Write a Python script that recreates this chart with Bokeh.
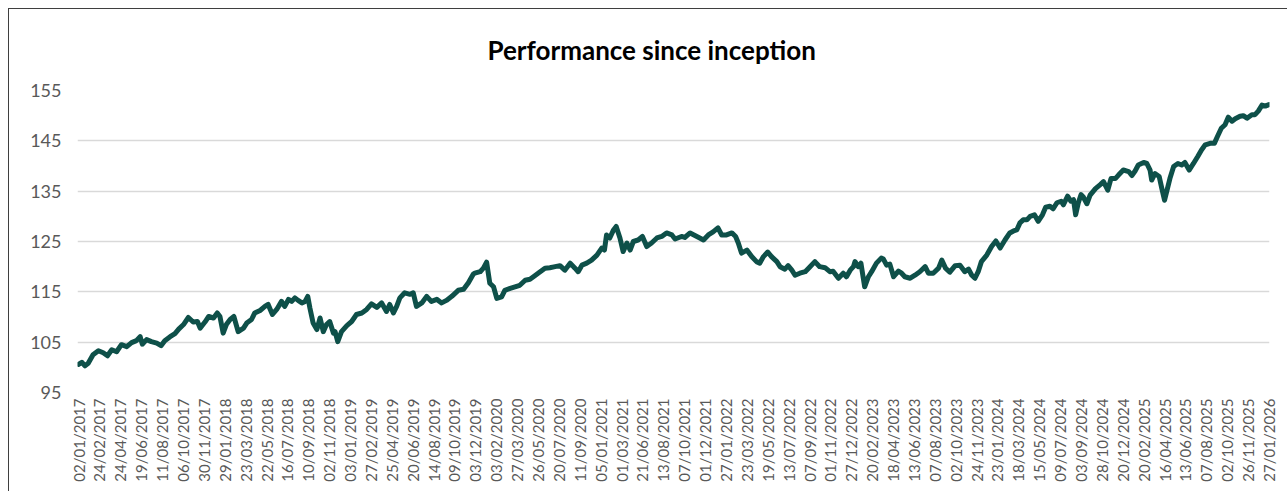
from math import pi
from bokeh.plotting import figure
from bokeh.models import FixedTicker, Range1d, ColumnDataSource
from bokeh.embed import file_html
from bokeh.resources import INLINE

# ---------------- data ----------------
title_text = "Performance since inception"
tick_dates = [
    "02/01/2017", "24/02/2017", "24/04/2017", "19/06/2017", "11/08/2017", "06/10/2017",
    "30/11/2017", "29/01/2018", "23/03/2018", "22/05/2018", "16/07/2018", "10/09/2018",
    "02/11/2018", "03/01/2019", "27/02/2019", "25/04/2019", "20/06/2019", "14/08/2019",
    "09/10/2019", "03/12/2019", "03/02/2020", "27/03/2020", "26/05/2020", "20/07/2020",
    "11/09/2020", "05/01/2021", "01/03/2021", "21/06/2021", "13/08/2021", "07/10/2021",
    "01/12/2021", "27/01/2022", "23/03/2022", "19/05/2022", "13/07/2022", "07/09/2022",
    "01/11/2022", "27/12/2022", "20/02/2023", "18/04/2023", "13/06/2023", "07/08/2023",
    "02/10/2023", "24/11/2023", "23/01/2024", "18/03/2024", "15/05/2024", "09/07/2024",
    "03/09/2024", "28/10/2024", "20/12/2024", "20/02/2025", "16/04/2025", "13/06/2025",
    "07/08/2025", "02/10/2025", "26/11/2025", "27/01/2026",
]
obs_per_tick = 39  # observations between two date labels

# observation number (trading day index) and performance value
obs = [
    0, 6, 12, 18, 27, 37, 46, 54, 62, 71, 80, 90, 99, 108, 115, 119, 127, 136, 146, 154,
    161, 171, 180, 187, 196, 205, 214, 222, 227, 236, 243, 252, 259, 264, 270, 276, 283, 290, 298, 308,
    314, 323, 329, 339, 348, 354, 362, 370,
    379, 385, 392, 398, 404, 410, 417, 423, 428, 432, 438, 445, 451, 457, 463, 469, 476, 479, 484, 491,
    501, 510, 519, 529, 538, 547, 557, 566, 575, 581, 588, 594, 600, 609, 619, 625, 631, 641, 650, 659,
    669, 678, 687, 697, 709, 719, 728, 737,
    740, 750, 756, 762, 768, 775, 781, 790, 796, 806, 815, 824, 834, 843, 852, 862, 871, 880, 890, 899,
    908, 918, 927, 933, 940, 949, 958, 968, 977, 982, 986, 992, 999, 1004, 1011, 1017, 1024, 1030, 1036, 1045,
    1053, 1061, 1070, 1080, 1089, 1098, 1108, 1114,
    1126, 1132, 1142, 1151, 1160, 1167, 1176, 1185, 1194, 1201, 1210, 1220, 1227, 1232, 1238, 1248, 1257, 1266,
    1272, 1279, 1287, 1294, 1304, 1310, 1319, 1325, 1332, 1338, 1347, 1357, 1366, 1375, 1384, 1394, 1403, 1409,
    1419, 1428, 1434, 1441, 1447, 1450, 1456, 1461, 1468, 1475, 1481, 1490, 1499,
    1503, 1509, 1515, 1522, 1531, 1537, 1543, 1553, 1562, 1571, 1581, 1587, 1596, 1606, 1612, 1619, 1627, 1637,
    1646, 1655, 1662, 1668, 1674, 1680, 1686, 1696, 1705, 1713, 1721, 1730, 1739, 1746, 1752, 1758, 1764, 1771,
    1777, 1785, 1792, 1800, 1806, 1814, 1820, 1827, 1835, 1839, 1847, 1853, 1858, 1862, 1867, 1872,
    1876, 1883, 1889, 1899, 1908, 1914, 1922, 1928, 1936, 1942, 1951, 1961, 1967, 1973, 1979, 1989, 1995, 2001,
    2004, 2010, 2018, 2023, 2028, 2032, 2038, 2045, 2053, 2060, 2066, 2074, 2082, 2090, 2097, 2104, 2113, 2121,
    2127, 2134, 2141, 2147, 2154, 2160, 2169, 2175, 2182, 2191, 2197, 2203, 2210, 2216, 2223,
]
perf = [
    100.6, 101.0, 100.3, 100.8, 102.5, 103.3, 102.9, 102.3, 103.5, 103.1, 104.5, 104.1, 104.9, 105.3, 106.1, 104.6, 105.5, 105.1, 104.8, 104.3,
    105.3, 106.1, 106.7, 107.6, 108.5, 109.9, 109.0, 109.1, 107.8, 109.0, 110.1, 109.8, 110.8, 110.1, 106.8, 108.5, 109.5, 110.1, 107.1, 107.8,
    108.8, 109.5, 110.8, 111.3, 112.1, 112.5, 110.5, 111.5,
    113.1, 112.1, 113.5, 113.1, 113.8, 113.3, 112.8, 113.1, 114.1, 111.8, 108.8, 107.5, 109.8, 107.1, 108.5, 109.1, 106.8, 107.1, 105.1, 107.1,
    108.3, 109.1, 110.5, 110.8, 111.5, 112.6, 111.9, 112.8, 111.1, 112.5, 110.8, 112.1, 113.8, 114.8, 114.5, 114.8, 112.1, 112.8, 114.1, 113.1,
    113.5, 112.8, 113.3, 114.1, 115.3, 115.5, 116.8, 118.5,
    118.7, 119.0, 119.7, 120.9, 116.7, 116.0, 113.7, 114.0, 115.3, 115.7, 116.0, 116.3, 117.3, 117.5, 118.2, 119.0, 119.7, 119.8, 120.0, 120.2,
    119.3, 120.7, 119.7, 119.0, 120.3, 120.7, 121.3, 122.3, 123.7, 123.3, 126.3, 125.7, 127.3, 128.0, 125.7, 123.0, 124.7, 123.3, 125.0, 125.3,
    126.0, 124.0, 124.7, 125.7, 126.0, 126.7, 126.3, 125.5,
    126.0, 125.8, 126.7, 126.2, 125.7, 125.3, 126.3, 126.9, 127.7, 126.3, 126.3, 126.7, 126.0, 124.7, 122.7, 123.3, 122.0, 121.0,
    120.7, 122.0, 122.9, 122.0, 121.0, 120.0, 119.5, 120.2, 119.3, 118.3, 118.7, 119.0, 120.0, 121.0, 120.0, 119.8, 119.0, 119.1,
    117.7, 118.7, 118.0, 119.3, 120.0, 121.0, 120.0, 120.7, 116.0, 118.0, 119.0, 120.7, 121.7,
    121.5, 120.3, 120.5, 118.0, 119.1, 118.7, 118.0, 117.7, 118.3, 119.0, 120.0, 118.7, 118.7, 119.7, 121.3, 119.7, 118.9, 120.2,
    120.3, 119.0, 119.5, 118.3, 117.7, 119.0, 121.0, 122.3, 124.0, 125.1, 123.7, 125.3, 126.7, 127.1, 127.3, 128.7, 129.3, 129.3,
    130.0, 130.3, 129.0, 130.3, 131.8, 132.0, 131.5, 132.7, 133.0, 132.3, 134.0, 133.0, 133.3, 130.3, 132.7, 134.3,
    133.9, 132.5, 134.2, 135.5, 136.3, 136.9, 135.2, 137.5, 137.5, 138.2, 139.2, 138.9, 138.1, 139.0, 140.2, 140.7, 140.5, 139.2,
    137.2, 138.5, 137.9, 135.5, 133.2, 134.9, 137.5, 139.9, 140.5, 140.2, 140.7, 139.2, 140.5, 141.9, 143.2, 144.2, 144.5, 144.5,
    145.9, 147.5, 148.2, 149.7, 148.9, 149.4, 149.9, 150.0, 149.5, 150.2, 150.2, 150.9, 152.1, 151.9, 152.2,
]
y_ticks = [95, 105, 115, 125, 135, 145, 155]

# ---------------- figure ----------------
tick_pos = [i * obs_per_tick for i in range(len(tick_dates))]
src = ColumnDataSource(data=dict(obs=obs, perf=perf))

FONT = "Lato"
p = figure(
    width=1279, height=483,
    output_backend="svg", toolbar_location=None,
    x_range=Range1d(-2, tick_pos[-1] + 1),
    y_range=Range1d(95, 155),
    title=title_text,
    min_border_left=68, min_border_right=19, min_border_top=81, min_border_bottom=100,
)
p.styles = {
    "margin-left": "8px", "margin-top": "8px",
    "border-left": "1px solid #3f3f3f", "border-top": "1px solid #3f3f3f",
}
p.outline_line_color = None
p.background_fill_color = "white"
p.border_fill_color = "white"

p.title.align = "left"
p.title.offset = 410
p.title.vertical_align = "top"
p.title.standoff = 46
p.title.text_font = FONT
p.title.text_font_style = "bold"
p.title.text_font_size = "26px"
p.title.text_color = "#000000"

p.line("obs", "perf", source=src, line_color="#0E5049", line_width=5,
       line_join="round", line_cap="round")

# x axis
p.xaxis.ticker = FixedTicker(ticks=tick_pos)
p.xaxis.major_label_overrides = {pos: lab for pos, lab in zip(tick_pos, tick_dates)}
p.xaxis.major_label_orientation = pi / 2
p.xaxis.major_label_text_font = FONT
p.xaxis.major_label_text_font_size = "15px"
p.xaxis.major_label_text_color = "#595959"
p.xaxis.major_label_standoff = 6
p.xaxis.major_tick_out = 0
p.xaxis.axis_line_color = None
p.xaxis.major_tick_line_color = None
p.xaxis.minor_tick_line_color = None

# y axis
p.yaxis.ticker = FixedTicker(ticks=y_ticks)
p.yaxis.major_label_text_font = FONT
p.yaxis.major_label_text_font_size = "18px"
p.yaxis.major_label_text_color = "#595959"
p.yaxis.major_label_standoff = 16
p.yaxis.major_tick_out = 0
p.yaxis.axis_line_color = None
p.yaxis.major_tick_line_color = None
p.yaxis.minor_tick_line_color = None

p.xgrid.visible = False
p.ygrid.grid_line_color = "#D9D9D9"
p.ygrid.grid_line_width = 1.5

open("out.html", "w").write(file_html(p, INLINE))
